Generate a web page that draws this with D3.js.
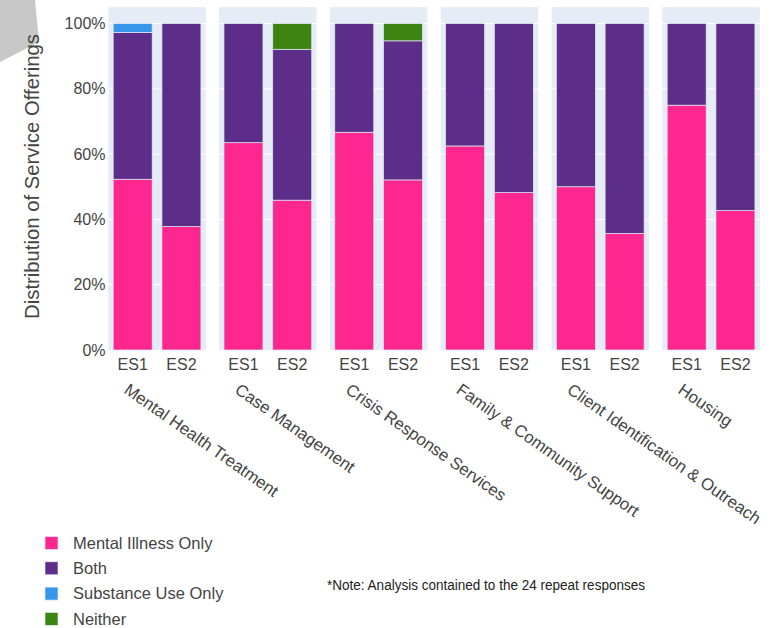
<!DOCTYPE html>
<html>
<head>
<meta charset="utf-8">
<script src="https://cdn.jsdelivr.net/npm/d3@7"></script>
<style>
  html, body { margin: 0; padding: 0; background: #ffffff; }
  svg { display: block; font-family: "Liberation Sans", Arial, sans-serif; }
</style>
</head>
<body>
<svg id="chart" width="778" height="628"></svg>
<script>
// Service areas (outer groups) and the two survey waves (inner bars)
const categories = [
  "Mental Health Treatment",
  "Case Management",
  "Crisis Response Services",
  "Family & Community Support",
  "Client Identification & Outreach",
  "Housing"
];
const surveys = ["ES1", "ES2"];

// Stacked shares, ordered category by category, ES1 then ES2
const mentalIllnessOnly = [0.523, 0.378, 0.635, 0.459, 0.667, 0.521, 0.625, 0.482, 0.500, 0.357, 0.750, 0.427];
const both              = [0.450, 0.622, 0.365, 0.462, 0.333, 0.426, 0.375, 0.518, 0.500, 0.643, 0.250, 0.573];
const substanceUseOnly  = [0.027, 0, 0, 0, 0, 0, 0, 0, 0, 0, 0, 0];
const neither           = [0, 0, 0, 0.079, 0, 0.053, 0, 0, 0, 0, 0, 0];

const seriesNames  = ["Mental Illness Only", "Both", "Substance Use Only", "Neither"];
const seriesColors = ["#fe2790", "#5c2d89", "#3796ea", "#3c8512"];
const yTicks = [0, 0.2, 0.4, 0.6, 0.8, 1.0];
const noteText = "*Note: Analysis contained to the 24 repeat responses";
const yTitle = "Distribution of Service Offerings";

const seriesValues = [mentalIllnessOnly, both, substanceUseOnly, neither];

// Build one row per bar for the stack layout
const rows = [];
categories.forEach((c, ci) => {
  surveys.forEach((s, si) => {
    const idx = ci * surveys.length + si;
    const row = { category: c, survey: s };
    seriesNames.forEach((n, k) => { row[n] = seriesValues[k][idx]; });
    rows.push(row);
  });
});
const stacked = d3.stack().keys(seriesNames)(rows);

const svg = d3.select("#chart");
const textColor = "#444";
const panelBg = "#e5ecf6";

// Decorative grey corner shape
svg.append("polygon")
  .attr("points", "0,0 35,0 39,42 0,62")
  .attr("fill", "#c8c8c8");

// Scales
const x0 = d3.scaleBand().domain(categories).range([108.3, 759.8]).paddingInner(0.12).paddingOuter(0);
const x1 = d3.scaleBand().domain(surveys).range([0, x0.bandwidth()]).paddingInner(0.2).paddingOuter(0.1);
const y = d3.scaleLinear().domain([0, 1.05]).range([350, 7.2]);

// Panels with gridlines
const panels = svg.append("g").selectAll("g.panel")
  .data(categories).join("g")
  .attr("class", "panel")
  .attr("transform", d => `translate(${x0(d)},0)`);

panels.append("rect")
  .attr("x", 0).attr("y", y(1.05))
  .attr("width", x0.bandwidth())
  .attr("height", y(0) - y(1.05))
  .attr("fill", panelBg);

panels.selectAll("line.grid")
  .data(yTicks.filter(t => t > 0)).join("line")
  .attr("class", "grid")
  .attr("x1", 0).attr("x2", x0.bandwidth())
  .attr("y1", d => y(d)).attr("y2", d => y(d))
  .attr("stroke", "#ffffff").attr("stroke-width", 1);

// Stacked bars
const layers = svg.append("g").selectAll("g.layer")
  .data(stacked).join("g")
  .attr("class", "layer")
  .attr("fill", (d, i) => seriesColors[i]);

layers.selectAll("rect")
  .data(d => d.filter(p => p[1] - p[0] > 0))
  .join("rect")
  .attr("x", d => x0(d.data.category) + x1(d.data.survey))
  .attr("width", x1.bandwidth())
  .attr("y", d => y(d[1]))
  .attr("height", d => y(d[0]) - y(d[1]))
  .attr("stroke", panelBg)
  .attr("stroke-width", 0.7);

// Y axis tick labels
const yAxis = d3.axisLeft(y).tickValues(yTicks).tickFormat(d3.format(".0%")).tickSize(0).tickPadding(0);
const yg = svg.append("g").attr("transform", "translate(105.5,0)").call(yAxis);
yg.select(".domain").remove();
yg.selectAll("text")
  .attr("fill", textColor)
  .attr("font-size", 16)
  .attr("font-family", "'Liberation Sans', Arial, sans-serif");

// Y axis title
svg.append("text")
  .attr("transform", "translate(39,176.5) rotate(-90)")
  .attr("text-anchor", "middle")
  .attr("font-size", 20.3)
  .attr("fill", textColor)
  .text(yTitle);

// Inner (survey) labels
panels.selectAll("text.survey")
  .data(surveys).join("text")
  .attr("class", "survey")
  .attr("x", d => x1(d) + x1.bandwidth() / 2)
  .attr("y", 370)
  .attr("text-anchor", "middle")
  .attr("font-size", 16)
  .attr("fill", textColor)
  .text(d => d);

// Outer (category) labels, angled
svg.append("g").selectAll("text.cat")
  .data(categories).join("text")
  .attr("class", "cat")
  .attr("transform", d => `translate(${x0(d) + x0.bandwidth() / 2 - 27},382) rotate(35)`)
  .attr("dy", "0.74em")
  .attr("text-anchor", "start")
  .attr("font-size", 16.8)
  .attr("fill", textColor)
  .text(d => d);

// Legend
const legend = svg.append("g").attr("transform", "translate(45,0)");
const legendRows = legend.selectAll("g")
  .data(seriesNames).join("g")
  .attr("transform", (d, i) => `translate(0,${543 + i * 25.3})`);
legendRows.append("rect")
  .attr("x", 0).attr("y", -6.5)
  .attr("width", 13).attr("height", 13)
  .attr("fill", (d, i) => seriesColors[i])
  .attr("stroke", panelBg).attr("stroke-width", 0.7);
legendRows.append("text")
  .attr("x", 28).attr("y", 0)
  .attr("dy", "0.35em")
  .attr("font-size", 16.5)
  .attr("fill", textColor)
  .text(d => d);

// Footnote
svg.append("text")
  .attr("x", 327).attr("y", 590)
  .attr("font-size", 14)
  .attr("fill", "#222")
  .attr("textLength", 318)
  .attr("lengthAdjust", "spacingAndGlyphs")
  .text(noteText);
</script>
</body>
</html>
